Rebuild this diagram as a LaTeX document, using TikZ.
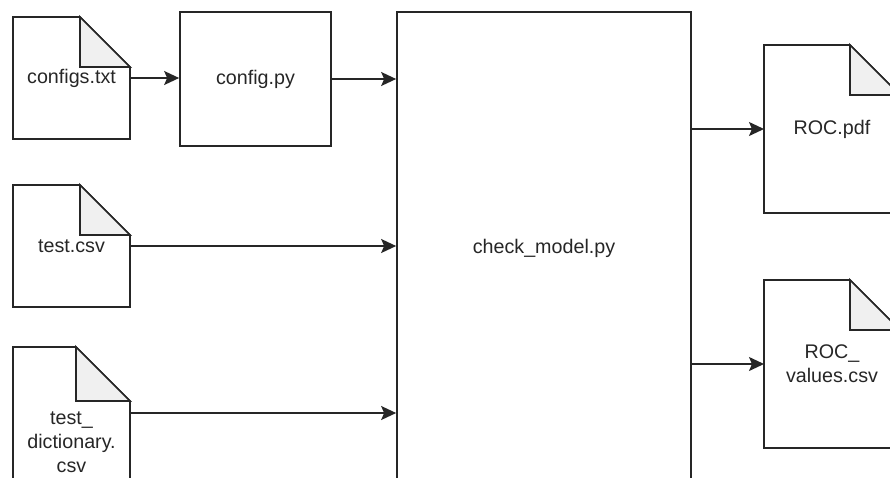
\documentclass[tikz,border=0pt]{standalone}
\usepackage{fontspec}
\setmainfont{Liberation Sans}
\usepackage{tikz}
\usetikzlibrary{calc}
\usetikzlibrary{arrows.meta}
\tikzstyle{every node}=[font=\fontsize{19.7}{24}\selectfont, text=black!85]
\tikzset{
  box/.style={draw=black!85, line width=1.7pt, inner sep=0pt, align=center},
  doc/.style={inner sep=0pt, outer sep=0pt, align=center},
  docline/.style={draw=black!85, line width=1.7pt, line join=miter},
  fold/.style={draw=black!85, line width=1.7pt, fill=black!6, line join=miter},
  link/.style={draw=black!85, line width=1.7pt, -{Stealth[length=15pt,width=14pt,inset=3pt]}}
}
\newcommand{\docfold}[2]{%
  \draw[docline] (#1.south west) -- (#1.north west) -- ([xshift=-#2]#1.north east)
    -- ([yshift=-#2]#1.north east) -- (#1.south east) -- cycle;
  \draw[fold] ([xshift=-#2]#1.north east) -- ([xshift=-#2,yshift=-#2]#1.north east)
    -- ([yshift=-#2]#1.north east) -- cycle;
}

\begin{document}
\begin{tikzpicture}[x=1pt, y=-1pt]
                \useasboundingbox (0,0) rectangle (890,477);
                \clip (0,0) rectangle (890,477);
                \node[doc, minimum width=117pt, minimum height=122pt] (configs) at (71.5,78) {configs.txt};
                \node[doc, minimum width=117pt, minimum height=122pt] (test) at (71.5,246) {test.csv};
                \node[doc, minimum width=117pt, minimum height=190pt] (dict) at (71.5,442) {test\_\\dictionary.\\csv};
                \node[box, minimum width=151pt, minimum height=134pt] (config) at (255.5,79) {config.py};
                \node[box, minimum width=294pt, minimum height=472pt] (check) at (544,248) {check\_model.py};
                \node[doc, minimum width=136pt, minimum height=168pt] (roc) at (832,129) {ROC.pdf};
                \node[doc, minimum width=136pt, minimum height=168pt] (rocval) at (832,364) {ROC\_\\values.csv};
                \docfold{configs}{50pt}
                \docfold{test}{50pt}
                \docfold{dict}{54pt}
                \docfold{roc}{50pt}
                \docfold{rocval}{50pt}
                \draw[link] (configs.east) -- (configs.east -| config.west);
                \draw[link] (config.east) -- (config.east -| check.west);
                \draw[link] (test.east) -- (test.east -| check.west);
                \draw[link] ([yshift=29pt]dict.east) -- ([yshift=29pt]dict.east -| check.west);
                \draw[link] (roc.west -| check.east) -- (roc.west);
                \draw[link] (rocval.west -| check.east) -- (rocval.west);
            \end{tikzpicture}
\end{document}
